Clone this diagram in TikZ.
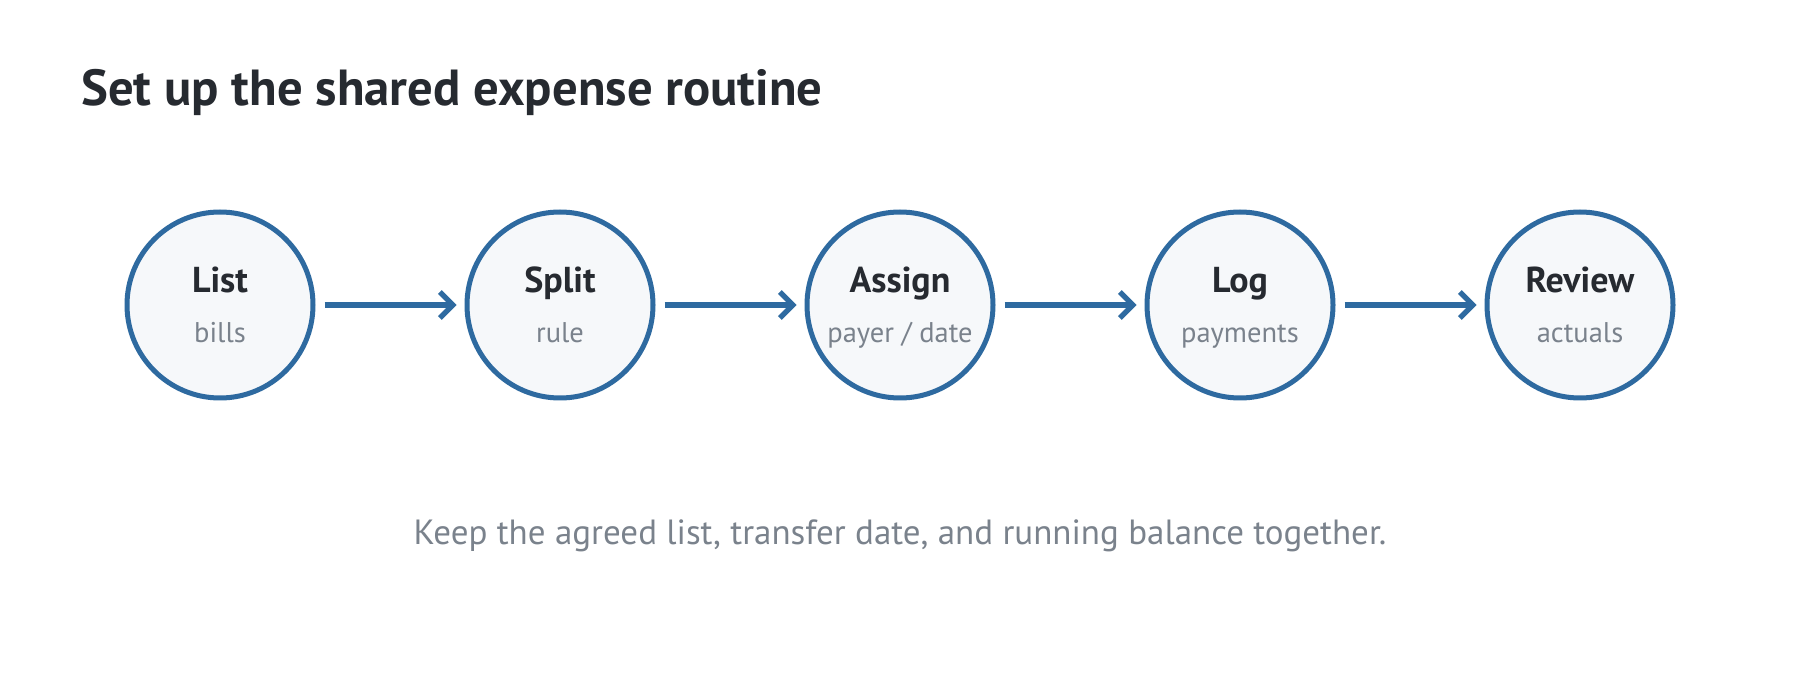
\documentclass[tikz,border=0pt]{standalone}
\usepackage{fontspec}
\setmainfont{PT Sans}
\usetikzlibrary{arrows.meta}
\definecolor{ink}{HTML}{262A30}
\definecolor{muted}{HTML}{7A828C}
\definecolor{stroke}{HTML}{2E6AA0}
\definecolor{fillc}{HTML}{F6F8FA}
\tikzset{
  stepcircle/.style={circle, draw=stroke, fill=fillc, line width=5pt, inner sep=0pt, minimum size=186pt},
  steptitle/.style={anchor=base, text=ink, font=\fontsize{36}{42}\selectfont\bfseries, inner sep=0pt},
  stepsub/.style={anchor=base, text=muted, font=\fontsize{28.5}{34}\selectfont, inner sep=0pt},
  flow/.style={draw=stroke, line width=5.3pt, -{Straight Barb[length=13pt, width=26pt]}, shorten <=9pt, shorten >=8pt}
}
\begin{document}
\begin{tikzpicture}[x=1pt, y=-1pt]
\useasboundingbox (0,0) rectangle (1800,700);
\node[anchor=base west, text=ink, font=\fontsize{50.7}{58}\selectfont\bfseries, inner sep=0pt] (title) at (81,106) {Set up the shared expense routine};
\foreach \i/\t/\s in {1/List/bills, 2/Split/rule, 3/Assign/{payer / date}, 4/Log/payments, 5/Review/actuals}{
  \node[stepcircle] (c\i) at ({220+340*(\i-1)},305) {};
  \node[steptitle] (t\i) at ({220+340*(\i-1)},293) {\t};
  \node[stepsub] (s\i) at ({220+340*(\i-1)},343) {\s};
}
\foreach \a/\b in {1/2, 2/3, 3/4, 4/5}{
  \draw[flow] (c\a.east) -- (c\b.west);
}
\node[anchor=base, text=muted, font=\fontsize{35}{42}\selectfont, inner sep=0pt] (caption) at (900,544) {Keep the agreed list, transfer date, and running balance together.};
\end{tikzpicture}
\end{document}
